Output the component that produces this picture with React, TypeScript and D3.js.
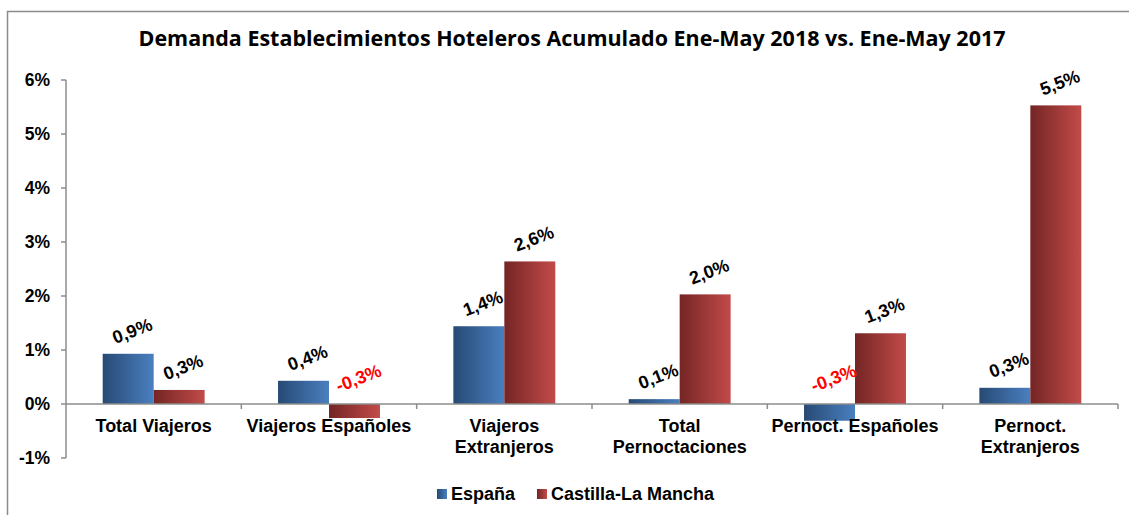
import React from "react";
import * as d3 from "d3";

const title = "Demanda Establecimientos Hoteleros Acumulado Ene-May 2018 vs. Ene-May 2017";
const categories = [
  ["Total Viajeros"],
  ["Viajeros Españoles"],
  ["Viajeros", "Extranjeros"],
  ["Total", "Pernoctaciones"],
  ["Pernoct. Españoles"],
  ["Pernoct.", "Extranjeros"],
];
const seriesNames = ["España", "Castilla-La Mancha"];
const espana = [0.93, 0.43, 1.44, 0.09, -0.31, 0.3];
const castilla = [0.26, -0.26, 2.64, 2.03, 1.31, 5.53];
const yTicks = [-1, 0, 1, 2, 3, 4, 5, 6];

const W = 1129;
const H = 515;
const FONT = "'Liberation Sans', Arial, sans-serif";

export default function App() {
  const catKeys = categories.map((c) => c.join(" "));
  const x = d3.scaleBand<string>().domain(catKeys).range([66, 1118]).paddingInner(0).paddingOuter(0);
  const xs = d3.scaleBand<string>().domain(seriesNames).range([0, x.bandwidth()]).paddingInner(0).paddingOuter(0.72);
  const y = d3.scaleLinear().domain([-1, 6]).range([458, 80]);
  const fmt = (v: number) => d3.format(".1f")(v).replace(".", ",").replace("−", "-") + "%";
  const series = [espana, castilla];
  const fills = ["url(#gBlue)", "url(#gRed)"];
  const y0 = y(0);

  return (
    <svg width={W} height={H} style={{ position: "absolute", left: 0, top: 0 }} fontFamily={FONT}>
      <defs>
        <linearGradient id="gBlue" x1="0" x2="1" y1="0" y2="0">
          <stop offset="0" stopColor="#274a74" />
          <stop offset="1" stopColor="#4a7fc0" />
        </linearGradient>
        <linearGradient id="gRed" x1="0" x2="1" y1="0" y2="0">
          <stop offset="0" stopColor="#742524" />
          <stop offset="1" stopColor="#c24b49" />
        </linearGradient>
      </defs>
      <rect width={W} height={H} fill="#fff" />
      {/* outer frame */}
      <path d={`M7.5,${H} V11.5 H${W}`} fill="none" stroke="#8c8c8c" strokeWidth={1.5} />
      <text x={572} y={46} textAnchor="middle" fontFamily="'Open Sans', sans-serif" fontWeight="bold" fontSize={21}
        textLength={867} lengthAdjust="spacingAndGlyphs">
        {title}
      </text>

      {/* bars */}
      {series.map((vals, si) =>
        vals.map((v, i) => {
          const bx = x(catKeys[i])! + xs(seriesNames[si])!;
          return (
            <rect key={`b${si}-${i}`} x={bx} y={Math.min(y(v), y0)} width={xs.bandwidth()}
              height={Math.abs(y(v) - y0)} fill={fills[si]} />
          );
        })
      )}

      {/* y axis */}
      <line x1={66} x2={66} y1={y(6)} y2={y(-1)} stroke="#8c8c8c" strokeWidth={1.5} />
      {yTicks.map((t) => (
        <g key={t}>
          <line x1={61} x2={66} y1={y(t)} y2={y(t)} stroke="#8c8c8c" strokeWidth={1.5} />
          <text x={50} y={y(t) + 6} textAnchor="end" fontWeight="bold" fontSize={17.5}>
            {t}%
          </text>
        </g>
      ))}

      {/* x axis at zero */}
      <line x1={66} x2={1118} y1={y0} y2={y0} stroke="#8c8c8c" strokeWidth={1.5} />
      {catKeys.map((k, i) => (
        <line key={`t${i}`} x1={x(k)! + x.bandwidth()} x2={x(k)! + x.bandwidth()} y1={y0} y2={y0 + 5}
          stroke="#8c8c8c" strokeWidth={1.5} />
      ))}
      {categories.map((lines, i) => (
        <text key={`c${i}`} textAnchor="middle" fontWeight="bold" fontSize={18}>
          {lines.map((ln, j) => (
            <tspan key={j} x={x(catKeys[i])! + x.bandwidth() / 2} y={432 + j * 21}>
              {ln}
            </tspan>
          ))}
        </text>
      ))}

      {/* data labels */}
      {series.map((vals, si) =>
        vals.map((v, i) => {
          const cx = x(catKeys[i])! + xs(seriesNames[si])! + xs.bandwidth() / 2 + 4;
          const cy = v >= 0 ? y(v) - 23 : y0 - 26;
          return (
            <text key={`l${si}-${i}`} transform={`translate(${cx},${cy}) rotate(-21)`} textAnchor="middle"
              dy="0.35em" fontWeight="bold" fontSize={18} fill={v < 0 ? "#ff0000" : "#000"}>
              {fmt(v)}
            </text>
          );
        })
      )}

      {/* legend */}
      <rect x={437} y={489} width={10} height={10} fill="url(#gBlue)" />
      <text x={451} y={500} fontWeight="bold" fontSize={18}>{seriesNames[0]}</text>
      <rect x={537} y={489} width={10} height={10} fill="url(#gRed)" />
      <text x={551} y={500} fontWeight="bold" fontSize={18}>{seriesNames[1]}</text>
    </svg>
  );
}
